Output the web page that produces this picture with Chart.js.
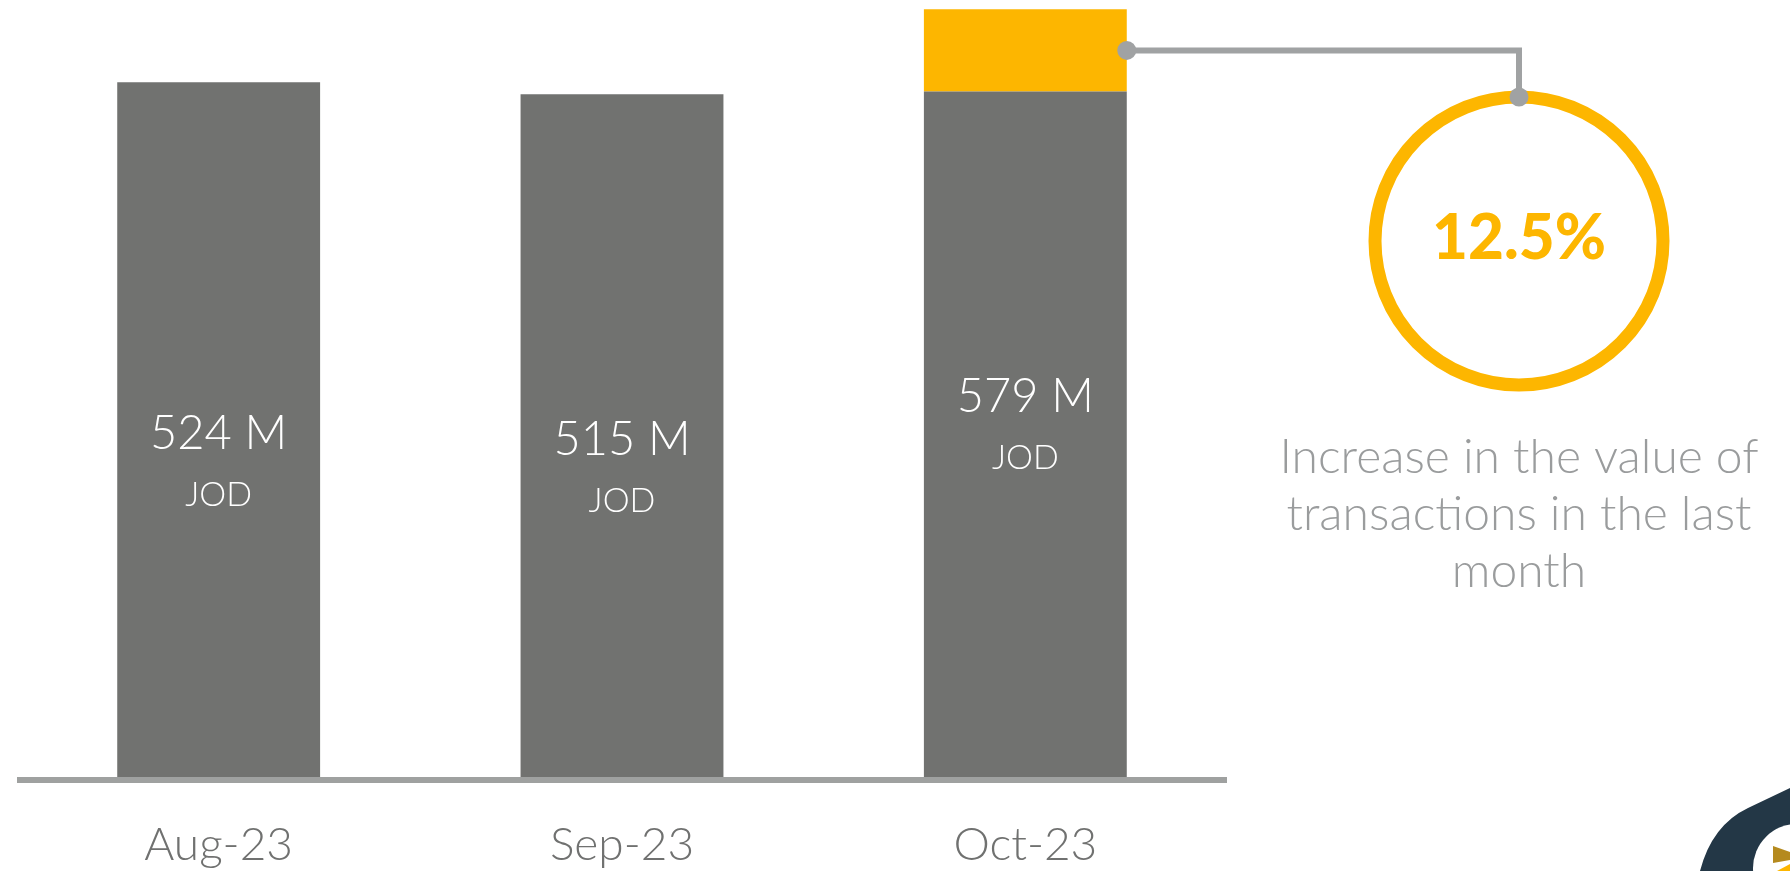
<!DOCTYPE html>
<html>
<head>
<meta charset="utf-8">
<script src="https://cdn.jsdelivr.net/npm/chart.js"></script>
<style>
  html, body { margin: 0; padding: 0; background: #ffffff; }
  #wrap { width: 1790px; height: 871px; }
</style>
</head>
<body>
<div id="wrap"><canvas id="valueChart" width="1790" height="871"></canvas></div>
<script>
// Données (millions JOD)
const months = ['Aug-23', 'Sep-23', 'Oct-23'];
const totalValues = [524, 515, 579];
const baseValues = [524, 515, 517];      // partie grise
const increaseValues = [0, 0, 62];       // hausse du dernier mois (jaune)
const growthLabel = '12.5%';
const captionLines = ['Increase in the value of', 'transactions in the last', 'month'];
const unitLabel = 'JOD';

const GREY_BAR = '#717270';
const YELLOW = '#FDB600';
const LINE_GREY = '#A0A2A3';
const TEXT_GREY = '#9A9C9D';

// Plugin pour les annotations (libellés, ligne de base, cercle, logo)
const annotations = {
    id: 'annotations',
    afterDatasetsDraw(chart) {
        const { ctx, chartArea, scales } = chart;
        const yScale = scales.y;
        const baseY = yScale.getPixelForValue(0);

        ctx.save();

        // ligne de base
        ctx.strokeStyle = '#9FA1A0';
        ctx.lineWidth = 6;
        ctx.beginPath();
        ctx.moveTo(chartArea.left, baseY + 3);
        ctx.lineTo(chartArea.right, baseY + 3);
        ctx.stroke();

        // valeurs dans les barres
        const meta = chart.getDatasetMeta(0);
        ctx.fillStyle = '#ffffff';
        ctx.textAlign = 'center';
        ctx.textBaseline = 'middle';
        totalValues.forEach((v, i) => {
            const x = meta.data[i].x;
            const mid = (yScale.getPixelForValue(v) + baseY) / 2 + 4;
            ctx.font = '300 47px Lato';
            ctx.fillText(v + ' M', x, mid);
            ctx.font = '300 34px Lato';
            ctx.fillText(unitLabel, x, mid + 61);
        });

        // connecteur vers le cercle
        const inc = chart.getDatasetMeta(1).data[2];
        const ax = inc.x + inc.width / 2;
        const ay = (inc.y + inc.base) / 2;
        const cx = 1519, cy = 241, r = 144;

        ctx.strokeStyle = LINE_GREY;
        ctx.lineWidth = 6;
        ctx.beginPath();
        ctx.moveTo(ax, ay);
        ctx.lineTo(cx, ay);
        ctx.lineTo(cx, cy - r);
        ctx.stroke();

        // cercle jaune
        ctx.strokeStyle = YELLOW;
        ctx.lineWidth = 13;
        ctx.beginPath();
        ctx.arc(cx, cy, r, 0, Math.PI * 2);
        ctx.stroke();

        // points
        ctx.fillStyle = LINE_GREY;
        [[ax, ay], [cx, cy - r]].forEach(([px, py]) => {
            ctx.beginPath();
            ctx.arc(px, py, 9.5, 0, Math.PI * 2);
            ctx.fill();
        });

        // pourcentage
        ctx.fillStyle = YELLOW;
        ctx.font = '900 62px Lato';
        ctx.fillText(growthLabel, cx, cy - 2);

        // légende à droite
        ctx.fillStyle = TEXT_GREY;
        ctx.font = '300 48px Lato';
        ctx.textBaseline = 'alphabetic';
        captionLines.forEach((line, i) => {
            ctx.fillText(line, cx, 473 + i * 57);
        });

        // logo (coin bas droit, coupé)
        ctx.fillStyle = '#233746';
        ctx.beginPath();
        ctx.moveTo(1700, 871);
        ctx.quadraticCurveTo(1712, 825, 1748, 808);
        ctx.lineTo(1790, 788);
        ctx.lineTo(1790, 871);
        ctx.closePath();
        ctx.fill();
        ctx.fillStyle = '#ffffff';
        ctx.beginPath();
        ctx.arc(1797, 868, 44, 0, Math.PI * 2);
        ctx.fill();
        ctx.fillStyle = '#B58A1E';
        ctx.beginPath();
        ctx.moveTo(1773, 846);
        ctx.lineTo(1790, 852);
        ctx.lineTo(1790, 860);
        ctx.lineTo(1773, 863);
        ctx.closePath();
        ctx.fill();
        ctx.fillStyle = YELLOW;
        ctx.beginPath();
        ctx.moveTo(1777, 871);
        ctx.lineTo(1790, 864);
        ctx.lineTo(1790, 871);
        ctx.closePath();
        ctx.fill();

        ctx.restore();
    }
};

new Chart(document.getElementById('valueChart'), {
    type: 'bar',
    data: {
        labels: months,
        datasets: [
            {
                label: 'Base',
                data: baseValues,
                backgroundColor: GREY_BAR,
                barPercentage: 0.503,
                categoryPercentage: 1
            },
            {
                label: 'Increase',
                data: increaseValues,
                backgroundColor: YELLOW,
                barPercentage: 0.503,
                categoryPercentage: 1
            }
        ]
    },
    options: {
        responsive: false,
        animation: false,
        layout: {
            padding: { left: 17, right: 563, top: 0, bottom: 0 }
        },
        plugins: {
            legend: { display: false },
            tooltip: { enabled: false }
        },
        scales: {
            x: {
                stacked: true,
                grid: { display: false, drawTicks: false },
                border: { display: false },
                afterFit(scale) {
                    // hauteur fixe de l'axe pour caler la ligne de base
                    scale.height = 94;
                },
                ticks: {
                    color: '#707170',
                    padding: 43,
                    font: { family: 'Lato', weight: '300', size: 46, lineHeight: 1.1 }
                }
            },
            y: {
                stacked: true,
                display: false,
                min: 0,
                max: 586
            }
        }
    },
    plugins: [annotations]
});
</script>
</body>
</html>
